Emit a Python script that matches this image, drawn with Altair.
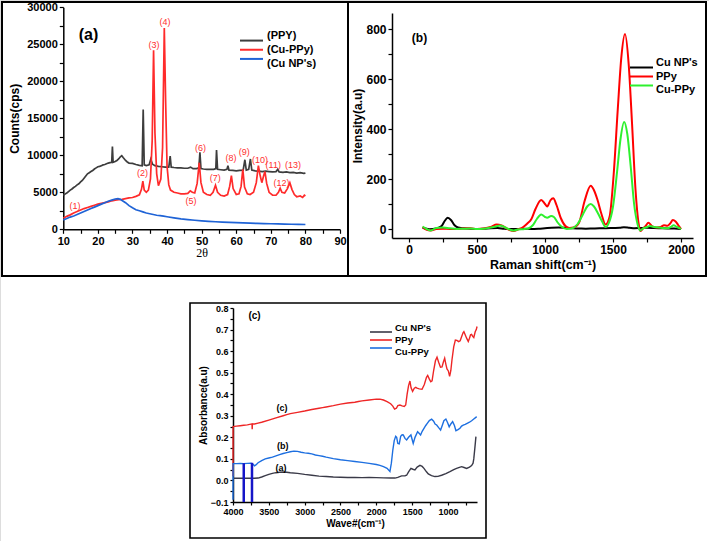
import altair as alt
import pandas as pd

FONT = "Liberation Sans"
W, H = 709, 541

# ---------------- (a) XRD ----------------
a_names = ["(PPY)", "(Cu-PPy)", "(Cu NP's)"]
a_colors = ["#3d3d3d", "#ff2b2b", "#1f63d6"]

ppy_theta = [10.0, 10.5, 11.0, 11.5, 12.0, 12.5, 13.0, 13.5, 14.0, 14.5, 15.0, 15.5, 16.0, 16.5, 17.0, 17.5,
             18.0, 18.5, 19.0, 19.5, 20.0, 20.5, 21.0, 21.5, 22.0, 22.5, 23.0, 23.5, 24.0, 24.2, 24.4, 25.0,
             25.5, 26.0, 26.5, 26.9, 27.3, 28.0, 28.5, 29.0, 30.0, 31.0, 32.0, 32.8, 33.1, 33.4, 34.0, 34.8,
             35.3, 35.8, 36.5, 37.5, 38.5, 39.5, 40.5, 40.9, 41.2, 42.0, 43.0, 44.0, 45.0, 46.0, 46.8, 47.5,
             48.5, 49.2, 49.5, 49.8, 50.5, 51.5, 52.5, 53.5, 54.1, 54.3, 54.6, 55.5, 56.5, 57.3, 57.6, 57.9,
             59.0, 60.0, 61.0, 62.0, 62.5, 62.9, 63.6, 64.1, 64.5, 65.5, 66.5, 67.5, 68.5, 69.5, 70.5, 71.5,
             72.0, 72.4, 73.5, 74.5, 75.5, 76.5, 77.5, 78.5, 79.5, 80.0]
ppy_counts = [4600, 4750, 4900, 5100, 5300, 5450, 5650, 5800, 6000, 6150, 6400, 6600, 6900, 7200, 7500, 7650,
              7800, 7950, 8150, 8300, 8450, 8500, 8600, 8700, 8750, 8850, 8950, 9000, 9050, 11200, 9050, 9150,
              9300, 9500, 9800, 9950, 9700, 9300, 9100, 8950, 8900, 8750, 8650, 8600, 16200, 8700, 8600, 8700,
              9500, 8800, 8600, 8500, 8450, 8400, 8400, 9900, 8400, 8350, 8300, 8300, 8250, 8250, 8400, 8200,
              8200, 8300, 10400, 8200, 8150, 8100, 8100, 8100, 8200, 10700, 8100, 8050, 8000, 8100, 8600, 8000,
              7950, 7900, 7950, 8000, 9400, 8000, 8100, 9500, 8000, 7900, 7850, 7800, 7850, 7800, 7750, 7800,
              8100, 7750, 7700, 7750, 7650, 7700, 7600, 7650, 7550, 7600]

cuppy_theta = [10.0, 11.0, 12.0, 13.0, 14.0, 15.0, 16.0, 17.0, 18.0, 19.0, 20.0, 21.0, 22.0, 23.0, 24.0, 25.0,
               26.0, 27.0, 28.0, 29.0, 30.0, 31.0, 32.0, 32.6, 33.0, 33.4, 34.0, 34.6, 35.2, 35.7, 36.1, 36.5,
               37.0, 37.5, 38.2, 38.7, 39.2, 39.6, 40.0, 40.5, 41.0, 42.0, 43.0, 44.0, 45.0, 46.0, 46.7, 47.3,
               48.0, 48.7, 49.3, 49.8, 50.5, 51.5, 52.5, 53.3, 54.0, 54.6, 55.5, 56.5, 57.5, 58.1, 58.6, 59.1,
               60.0, 60.8, 61.4, 61.9, 62.4, 63.2, 64.0, 65.0, 65.8, 66.4, 66.9, 67.4, 67.9, 68.3, 68.8, 69.5,
               70.5, 71.5, 72.2, 72.7, 73.2, 74.0, 74.8, 75.5, 76.1, 76.8, 77.5, 78.5, 79.2, 79.7, 80.0]
cuppy_counts = [1500, 1750, 1950, 2200, 2400, 2600, 2800, 2950, 3100, 3250, 3400, 3500, 3600, 3700, 3850, 3950,
                4000, 4050, 4150, 4250, 4300, 4450, 4650, 5400, 6500, 5300, 5000, 5300, 6800, 12000, 24200, 13000,
                7500, 5900, 6800, 11000, 27200, 17000, 8500, 6000, 5300, 5000, 4900, 4800, 4800, 4850, 5200, 5000,
                4900, 6200, 9000, 6300, 5000, 4700, 4600, 5000, 5950, 5000, 4600, 4500, 4700, 5800, 7250, 5500,
                4700, 4800, 5800, 8100, 5700, 4800, 4700, 5000, 6300, 8600, 7300, 6300, 7200, 7800, 6200, 5000,
                4600, 4600, 5000, 5550, 5000, 4900, 5500, 6300, 5400, 4700, 4400, 4500, 4300, 4600, 4500]

cunp_theta = [10.0, 11.0, 12.0, 13.0, 14.0, 15.0, 16.0, 17.0, 18.0, 19.0, 20.0, 21.0, 22.0, 23.0, 24.0, 25.0,
              25.8, 26.5, 27.0, 28.0, 29.0, 30.0, 31.0, 32.0, 33.0, 34.0, 35.0, 36.0, 37.0, 38.0, 39.0, 40.0,
              42.0, 44.0, 46.0, 48.0, 50.0, 52.0, 54.0, 56.0, 58.0, 60.0, 62.0, 64.0, 66.0, 68.0, 70.0, 72.0,
              74.0, 76.0, 78.0, 80.0]
cunp_counts = [1250, 1450, 1650, 1800, 2000, 2200, 2400, 2600, 2800, 3000, 3200, 3400, 3600, 3800, 3950, 4100,
               4150, 4050, 3900, 3600, 3200, 2900, 2650, 2500, 2350, 2200, 2100, 2000, 1900, 1850, 1780, 1700,
               1550, 1400, 1300, 1220, 1150, 1080, 1020, 980, 930, 900, 860, 830, 800, 770, 750, 720,
               700, 680, 660, 650]

peak_text = ["(1)", "(2)", "(3)", "(4)", "(5)", "(6)", "(7)", "(8)", "(9)", "(10)", "(11)", "(12)", "(13)"]
peak_x = [13.4, 32.9, 36.2, 39.4, 46.9, 49.7, 53.9, 58.5, 62.3, 66.9, 70.7, 73.1, 76.4]
peak_y = [3190, 7580, 24940, 27950, 3870, 10960, 6900, 9690, 10500, 9380, 8700, 6300, 8750]

# ---------------- (b) Raman ----------------
b_names = ["Cu NP's", "PPy", "Cu-PPy"]
b_colors = ["#000000", "#ff0000", "#2ef02e"]

rb_cunp_x = [100, 150, 200, 240, 260, 285, 310, 335, 360, 400, 450, 500, 550, 600, 650, 700, 750, 800, 850,
             900, 950, 1000, 1050, 1100, 1150, 1200, 1250, 1300, 1350, 1400, 1450, 1500, 1550, 1580, 1620,
             1660, 1700, 1750, 1800, 1850, 1900, 1950, 2000]
rb_cunp_y = [5, -1, 2, 12, 30, 45, 35, 15, 6, 3, 1, 0, 1, 3, 4, 1, 0, 0, 1, 0, 1, 3, 5, 6, 5, 3, 2, 1, 2, 3,
             3, 4, 5, 7, 5, 3, 4, 5, 4, 3, 2, 2, 0]

rb_ppy_x = [100, 130, 160, 200, 250, 300, 350, 400, 450, 500, 550, 600, 645, 680, 710, 740, 770, 800, 840,
            870, 900, 930, 972, 1000, 1016, 1040, 1060, 1085, 1115, 1150, 1180, 1210, 1250, 1290, 1336, 1360,
            1385, 1415, 1445, 1475, 1505, 1535, 1560, 1588, 1615, 1640, 1665, 1690, 1700, 1720, 1740, 1760,
            1785, 1820, 1850, 1875, 1900, 1920, 1940, 1960, 1980, 2000]
rb_ppy_y = [8, -3, -6, 0, 1, 0, 0, 2, 3, 0, 2, 8, 18, 14, 5, -4, -8, -2, 8, 22, 40, 80, 116, 100, 90, 115,
            123, 95, 45, 12, 4, 6, 25, 110, 173, 155, 118, 60, 18, 50, 220, 480, 680, 780, 660, 420, 160, 15,
            -8, 2, 12, 25, 12, 6, 8, 15, 13, 22, 36, 30, 15, 0]

rb_cuppy_x = [100, 130, 160, 200, 250, 300, 350, 400, 450, 500, 550, 600, 640, 670, 700, 740, 770, 800, 850,
              880, 910, 940, 972, 1000, 1016, 1045, 1065, 1090, 1120, 1160, 1200, 1240, 1280, 1310, 1336, 1360,
              1390, 1420, 1445, 1470, 1500, 1530, 1555, 1582, 1605, 1630, 1655, 1680, 1700, 1720, 1750, 1770,
              1800, 1850, 1900, 1925, 1945, 1970, 2000]
rb_cuppy_y = [10, 0, -6, 4, 6, 3, 0, 1, 2, 0, 1, 6, 10, 14, 8, -2, -6, -2, 0, 3, 15, 40, 58, 48, 45, 52, 48,
              28, 10, 0, 3, 20, 60, 90, 100, 90, 62, 30, 8, 25, 90, 230, 360, 428, 380, 250, 100, 20, -6, 2, 8,
              12, 8, 5, 3, 8, 15, 8, 0]

# ---------------- (c) FTIR ----------------
c_names = ["Cu NP's", "PPy", "Cu-PPy"]
c_colors = ["#3a3a48", "#ee2626", "#1d6fe0"]

fc_cunp_x = [4000, 3900, 3800, 3700, 3650, 3600, 3550, 3500, 3450, 3400, 3350, 3300, 3250, 3200, 3100, 3000,
             2900, 2800, 2700, 2600, 2500, 2400, 2300, 2200, 2100, 2000, 1900, 1800, 1740, 1700, 1647, 1600,
             1577, 1550, 1517, 1490, 1461, 1430, 1391, 1360, 1335, 1300, 1275, 1230, 1182, 1140, 1089, 1030,
             973, 920, 880, 840, 810, 775, 740, 700, 670, 650, 640, 625, 610]
fc_cunp_y = [0.010, 0.010, 0.010, 0.010, 0.011, 0.016, 0.022, 0.028, 0.033, 0.036, 0.038, 0.039, 0.038, 0.036,
             0.033, 0.028, 0.024, 0.020, 0.018, 0.016, 0.015, 0.014, 0.014, 0.013, 0.014, 0.013, 0.012, 0.011,
             0.011, 0.014, 0.021, 0.022, 0.024, 0.040, 0.056, 0.052, 0.049, 0.062, 0.070, 0.065, 0.056, 0.040,
             0.030, 0.022, 0.018, 0.019, 0.024, 0.032, 0.041, 0.050, 0.056, 0.061, 0.064, 0.060, 0.056, 0.062,
             0.069, 0.080, 0.100, 0.150, 0.203]

fc_ppy_x = [4000, 3999, 3950, 3900, 3850, 3800, 3750, 3735, 3732, 3729, 3700, 3650, 3600, 3500, 3400, 3300,
            3250, 3200, 3100, 3000, 2900, 2800, 2750, 2700, 2600, 2500, 2400, 2300, 2250, 2200, 2100, 2000,
            1950, 1900, 1850, 1800, 1770, 1745, 1720, 1700, 1670, 1640, 1610, 1590, 1570, 1550, 1531, 1515,
            1494, 1470, 1450, 1432, 1400, 1362, 1330, 1300, 1283, 1260, 1240, 1222, 1200, 1175, 1153, 1130,
            1105, 1083, 1065, 1046, 1030, 1014, 995, 977, 960, 944, 920, 897, 875, 851, 830, 810, 790, 778,
            760, 740, 717, 700, 685, 671, 655, 640, 620, 605, 594]
fc_ppy_y = [0.020, 0.250, 0.252, 0.254, 0.256, 0.258, 0.261, 0.262, 0.238, 0.262, 0.262, 0.266, 0.270, 0.280,
            0.290, 0.300, 0.305, 0.310, 0.316, 0.322, 0.329, 0.335, 0.338, 0.341, 0.347, 0.354, 0.359, 0.363,
            0.366, 0.369, 0.373, 0.377, 0.377, 0.373, 0.366, 0.356, 0.345, 0.331, 0.335, 0.347, 0.350, 0.346,
            0.343, 0.350, 0.400, 0.440, 0.461, 0.430, 0.413, 0.428, 0.432, 0.428, 0.425, 0.423, 0.445, 0.478,
            0.487, 0.470, 0.458, 0.462, 0.510, 0.555, 0.572, 0.548, 0.525, 0.527, 0.548, 0.567, 0.540, 0.517,
            0.508, 0.483, 0.510, 0.560, 0.620, 0.651, 0.650, 0.644, 0.648, 0.667, 0.685, 0.690, 0.676, 0.660,
            0.645, 0.660, 0.676, 0.678, 0.668, 0.663, 0.690, 0.700, 0.714]

fc_cuppy_x = [4000, 3999, 3950, 3900, 3850, 3800, 3750, 3720, 3700, 3680, 3650, 3600, 3550, 3500, 3450, 3400,
              3350, 3300, 3250, 3200, 3150, 3100, 3050, 3000, 2950, 2900, 2850, 2800, 2750, 2700, 2600, 2500,
              2400, 2300, 2200, 2100, 2000, 1950, 1900, 1850, 1810, 1790, 1770, 1750, 1730, 1716, 1700, 1680,
              1660, 1640, 1624, 1600, 1577, 1550, 1517, 1500, 1485, 1460, 1424, 1400, 1382, 1360, 1335, 1310,
              1289, 1260, 1228, 1200, 1180, 1158, 1130, 1103, 1080, 1057, 1029, 1005, 983, 960, 935, 910, 889,
              860, 833, 810, 787, 760, 732, 700, 670, 640, 620, 600]
fc_cuppy_y = [-0.090, 0.078, 0.078, 0.079, 0.078, 0.079, 0.080, 0.075, 0.068, 0.072, 0.082, 0.092, 0.100,
              0.104, 0.108, 0.114, 0.120, 0.125, 0.129, 0.133, 0.136, 0.135, 0.131, 0.128, 0.126, 0.123, 0.118,
              0.115, 0.112, 0.108, 0.101, 0.096, 0.092, 0.088, 0.084, 0.079, 0.074, 0.070, 0.064, 0.056, 0.042,
              0.080, 0.140, 0.185, 0.205, 0.200, 0.172, 0.170, 0.205, 0.212, 0.211, 0.195, 0.188, 0.200, 0.211,
              0.190, 0.172, 0.200, 0.226, 0.218, 0.211, 0.228, 0.242, 0.255, 0.265, 0.278, 0.284, 0.275, 0.262,
              0.257, 0.245, 0.234, 0.255, 0.277, 0.285, 0.268, 0.249, 0.262, 0.273, 0.255, 0.231, 0.236, 0.242,
              0.252, 0.257, 0.260, 0.265, 0.270, 0.277, 0.285, 0.290, 0.296]

c_bar_x = [3850, 3735]
c_bar_top = [0.080, 0.082]
c_bar_bottom = [-0.1, -0.1]

c_curve_text = ["(c)", "(b)", "(a)"]
c_curve_x = [3316, 3305, 3330]
c_curve_y = [0.335, 0.161, 0.059]


def long_df(parts):
    rows, i = [], 0
    for name, xs, ys in parts:
        for xv, yv in zip(xs, ys):
            rows.append({"series": name, "x": xv, "y": yv, "i": i})
            i += 1
    return pd.DataFrame(rows)


def axis(orient, offset, values, label_expr, title, title_size, label_size, fmt=None,
         title_font=FONT, title_weight="bold", title_pad=2, label_pad=2, tick=4):
    kw = dict(orient=orient, offset=offset, values=values, labelExpr=label_expr, title=title, grid=False,
              domainColor="black", domainWidth=1.5, tickColor="black", tickWidth=1.2, tickSize=tick,
              labelColor="black", labelFont=FONT, labelFontWeight="bold", labelFontSize=label_size,
              labelPadding=label_pad, labelOverlap=False, labelFlush=False, labelBound=False,
              titleColor="black", titleFont=title_font, titleFontWeight=title_weight,
              titleFontSize=title_size, titlePadding=title_pad)
    if fmt:
        kw["format"] = fmt
    return alt.Axis(**kw)


def border(x0, x1, y0, y1, w):
    return alt.Chart(pd.DataFrame({"k": [0]})).mark_rect(
        fill="transparent", stroke="black", strokeWidth=w).encode(
        x=alt.value(x0), x2=alt.value(x1), y=alt.value(y0), y2=alt.value(y1))


def legend(names, colors, y_range, x0, x1, xt, size, sw):
    df = pd.DataFrame({"series": names})
    ys = alt.Y("series:N", scale=alt.Scale(domain=names, range=y_range, padding=0), axis=None)
    rule = alt.Chart(df).mark_rule(strokeWidth=sw).encode(
        x=alt.value(x0), x2=alt.value(x1), y=ys,
        color=alt.Color("series:N", scale=alt.Scale(domain=names, range=colors), legend=None))
    text = alt.Chart(df).mark_text(align="left", baseline="middle", font=FONT, fontWeight="bold",
                                   fontSize=size, color="black").encode(x=alt.value(xt), y=ys, text="series:N")
    return [rule, text]


def panel_label(txt, x, y, size):
    return alt.Chart(pd.DataFrame({"t": [txt]})).mark_text(
        font=FONT, fontWeight="bold", fontSize=size, color="black", align="center", baseline="middle").encode(
        x=alt.value(x), y=alt.value(y), text="t:N")


layers = [border(2, 348, 2, 276, 2), border(348, 706, 2, 276, 2), border(190, 486, 303, 538, 1.6)]

# ---- panel (a)
sx_a = alt.Scale(domain=[10, 90], range=[63.3, 340], nice=False, zero=False)
sy_a = alt.Scale(domain=[0, 30000], range=[229.3, 7.3], nice=False, zero=False)
df_a = long_df([(a_names[0], ppy_theta, ppy_counts), (a_names[1], cuppy_theta, cuppy_counts),
                (a_names[2], cunp_theta, cunp_counts)])
layers.append(alt.Chart(df_a).mark_line(strokeWidth=1.7).encode(
    x=alt.X("x:Q", scale=sx_a, axis=axis("bottom", 229.3 - H, list(range(10, 91, 5)),
                                         "datum.value % 10 === 0 ? datum.label : ''", "2θ", 12, 11,
                                         title_font="Liberation Serif", title_weight="normal", title_pad=1)),
    y=alt.Y("y:Q", scale=sy_a, axis=axis("left", -63.3, list(range(0, 30001, 2500)),
                                         "datum.value % 5000 === 0 ? datum.label : ''", "Counts(cps)", 12, 11,
                                         fmt="d", title_pad=5)),
    color=alt.Color("series:N", scale=alt.Scale(domain=a_names, range=a_colors), legend=None),
    order=alt.Order("i:Q")))
layers.append(alt.Chart(pd.DataFrame({"t": peak_text, "x": peak_x, "y": peak_y})).mark_text(
    font=FONT, fontSize=9, color="#ff3030", align="center", baseline="middle").encode(
    x=alt.X("x:Q", scale=sx_a, axis=None), y=alt.Y("y:Q", scale=sy_a, axis=None), text="t:N"))
layers.append(panel_label("(a)", 88.5, 35, 16))
layers += legend(a_names, a_colors, [36, 63.5], 240, 263, 267, 11, 2)

# ---- panel (b)
sx_b = alt.Scale(domain=[-125, 2088], range=[392, 693], nice=False, zero=False)
sy_b = alt.Scale(domain=[-36, 864], range=[238, 13], nice=False, zero=False)
df_b = long_df([(b_names[0], rb_cunp_x, rb_cunp_y), (b_names[1], rb_ppy_x, rb_ppy_y),
                (b_names[2], rb_cuppy_x, rb_cuppy_y)])
layers.append(alt.Chart(df_b).mark_line(strokeWidth=2, interpolate="monotone").encode(
    x=alt.X("x:Q", scale=sx_b, axis=axis("bottom", 238 - H, list(range(0, 2001, 250)),
                                         "datum.value % 500 === 0 ? datum.label : ''", "Raman shift(cm⁻¹)",
                                         12.5, 12, fmt="d", title_pad=3)),
    y=alt.Y("y:Q", scale=sy_b, axis=axis("left", -392, list(range(0, 801, 100)),
                                         "datum.value % 200 === 0 ? datum.label : ''", "Intensity(a.u)",
                                         12, 12, fmt="d", title_pad=1)),
    color=alt.Color("series:N", scale=alt.Scale(domain=b_names, range=b_colors), legend=None),
    order=alt.Order("i:Q")))
layers.append(panel_label("(b)", 419.5, 38, 12))
layers += legend(b_names, b_colors, [63, 90], 630, 653, 656, 11, 2)

# ---- panel (c)
sx_c = alt.Scale(domain=[595, 4000], range=[477, 233], nice=False, zero=False)
sy_c = alt.Scale(domain=[-0.1, 0.8], range=[502, 308], nice=False, zero=False)
df_c = long_df([(c_names[0], fc_cunp_x, fc_cunp_y), (c_names[1], fc_ppy_x, fc_ppy_y),
                (c_names[2], fc_cuppy_x, fc_cuppy_y)])
c_yticks = [-0.1, -0.05, 0.0, 0.05, 0.1, 0.15, 0.2, 0.25, 0.3, 0.35, 0.4, 0.45, 0.5, 0.55, 0.6, 0.65,
            0.7, 0.75, 0.8]
layers.append(alt.Chart(df_c).mark_line(strokeWidth=1.4).encode(
    x=alt.X("x:Q", scale=sx_c, axis=axis("bottom", 502 - H, list(range(4000, 700, -250)),
                                         "datum.value % 500 === 0 ? datum.label : ''", "Wave#(cm⁻¹)",
                                         10, 9, fmt="d", title_pad=2, tick=3)),
    y=alt.Y("y:Q", scale=sy_c, axis=axis("left", -233, c_yticks,
                                         "abs(round(datum.value * 100)) % 10 === 0 ? format(datum.value, '.1f') : ''",
                                         "Absorbance(a.u)", 10, 9, title_pad=2, tick=3)),
    color=alt.Color("series:N", scale=alt.Scale(domain=c_names, range=c_colors), legend=None),
    order=alt.Order("i:Q")))
layers.append(alt.Chart(pd.DataFrame({"x": c_bar_x, "y": c_bar_top, "y2": c_bar_bottom})).mark_rule(
    color="#1616c8", strokeWidth=2.5).encode(
    x=alt.X("x:Q", scale=sx_c, axis=None), y=alt.Y("y:Q", scale=sy_c, axis=None), y2="y2:Q"))
layers.append(alt.Chart(pd.DataFrame({"t": c_curve_text, "x": c_curve_x, "y": c_curve_y})).mark_text(
    font=FONT, fontSize=9, fontWeight="bold", color="black", align="center", baseline="middle").encode(
    x=alt.X("x:Q", scale=sx_c, axis=None), y=alt.Y("y:Q", scale=sy_c, axis=None), text="t:N"))
layers.append(panel_label("(c)", 254.5, 316, 10))
layers += legend(c_names, c_colors, [328, 352], 370, 392, 395, 9.5, 1.6)

chart = alt.layer(*layers).properties(
    width=W, height=H, padding=0, autosize=alt.AutoSizeParams(type="none")
).resolve_scale(x="independent", y="independent", color="independent").resolve_axis(
    x="independent", y="independent").configure_view(stroke="transparent").configure(background="white")

chart.save("out.html", embed_options={"renderer": "svg", "actions": False})
